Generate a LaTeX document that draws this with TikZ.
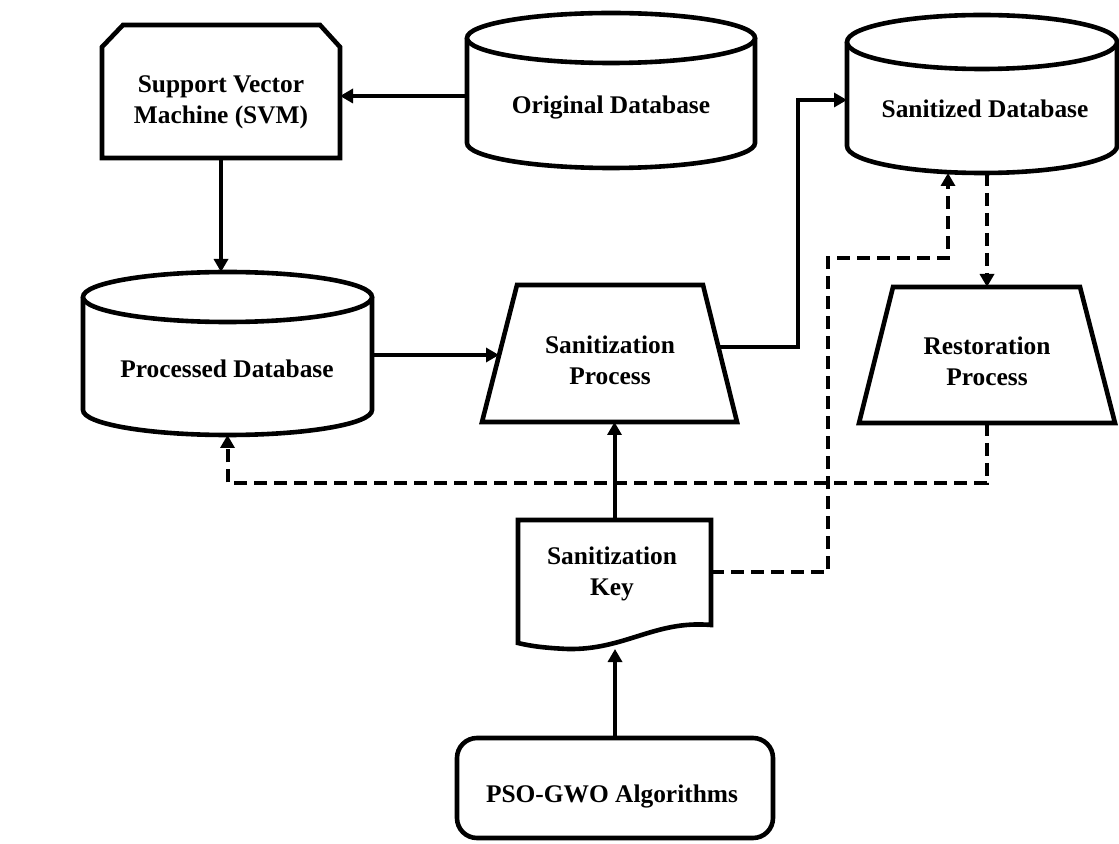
\documentclass[tikz,border=0pt]{standalone}
\usepackage{fontspec}
\setmainfont{Liberation Serif}
\usetikzlibrary{arrows.meta}
\begin{document}
\begin{tikzpicture}[x=0.5pt,y=0.5pt,
  outline/.style={line width=2.3pt, line join=miter, fill=white},
  anchorbox/.style={inner sep=0pt, outer sep=0pt},
  lbl/.style={font=\bfseries\fontsize{12.7pt}{15.5pt}\selectfont, align=center, inner sep=0pt},
  flow/.style={line width=2pt, -{Triangle[length=6.5pt,width=7pt]}},
  keyflow/.style={flow, dash pattern=on 6.5pt off 3.5pt},
]
\useasboundingbox (0,0) rectangle (1119,-844);

% Support vector machine: box with cut top corners
\node[anchorbox, minimum width=119pt, minimum height=66.5pt] (svm) at (221,-91.5) {};
\draw[outline] (102,-47) -- (123,-25) -- (320,-25) -- (340,-47) -- (340,-158) -- (102,-158) -- cycle;
\node[lbl] (svmtxt) at (221,-102) {Support Vector\\Machine (SVM)};

% Original database drum
\node[anchorbox, minimum width=144pt, minimum height=77.5pt] (orig) at (611,-90.5) {};
\draw[outline] (467,-38) -- (467,-143) arc[start angle=180,end angle=360,x radius=72pt,y radius=12.5pt] -- (755,-38);
\draw[outline] (611,-38) ellipse[x radius=72pt,y radius=12.5pt];
\node[lbl] (origtxt) at (611,-107) {Original Database};

% Sanitized database drum
\node[anchorbox, minimum width=135pt, minimum height=79pt] (sand) at (982,-94) {};
\draw[outline] (847,-42) -- (847,-146) arc[start angle=180,end angle=360,x radius=67.5pt,y radius=13.5pt] -- (1117,-42);
\draw[outline] (982,-42) ellipse[x radius=67.5pt,y radius=13.5pt];
\node[lbl] (sandtxt) at (985,-109) {Sanitized Database};

% Processed database drum
\node[anchorbox, minimum width=144.5pt, minimum height=81.5pt] (proc) at (227.5,-353.5) {};
\draw[outline] (83,-297) -- (83,-410) arc[start angle=180,end angle=360,x radius=72.25pt,y radius=12.5pt] -- (372,-297);
\draw[outline] (227.5,-297) ellipse[x radius=72.25pt,y radius=12.5pt];
\node[lbl] (proctxt) at (227,-369) {Processed Database};

% Sanitization process (trapezoid)
\node[anchorbox, minimum width=127.5pt, minimum height=68.5pt] (sanp) at (609.5,-353.5) {};
\draw[outline] (482,-422) -- (517,-285) -- (703,-285) -- (737,-422) -- cycle;
\coordinate (sanpin) at (499,-355);
\coordinate (sanpout) at (718.4,-347);
\node[lbl] (sanptxt) at (610,-360) {Sanitization\\Process};

% Restoration process (trapezoid)
\node[anchorbox, minimum width=128pt, minimum height=68pt] (rest) at (987,-355) {};
\draw[outline] (859,-423) -- (893,-287) -- (1080,-287) -- (1115,-423) -- cycle;
\node[lbl] (resttxt) at (987,-361) {Restoration\\Process};

% Sanitization key: document with wavy bottom edge
\node[anchorbox, minimum width=96.5pt, minimum height=64.5pt] (key) at (614.5,-584.5) {};
\draw[outline] (518,-520) -- (711,-520) -- (711,-625)
  .. controls (655,-620) and (625,-650) .. (568,-649)
  .. controls (545,-648) and (530,-646) .. (518,-643) -- cycle;
\node[lbl] (keytxt) at (612,-574) {Sanitization\\Key};

% Optimisation algorithms
\node[draw, line width=2.3pt, rounded corners=10pt, minimum width=158pt, minimum height=50pt,
  inner sep=0pt, outer sep=0pt] (pso) at (615,-788) {};
\node[lbl] (psotxt) at (612,-796) {PSO-GWO Algorithms};

% Data flow
\draw[flow] (orig.west |- 0,-96) -- (svm.east |- 0,-96);
\draw[flow] (svm.south) -- (svm.south |- proc.north);
\draw[flow] (proc.east |- sanpin) -- (sanpin);
\draw[flow] (sanpout) -- (sanpout -| 798,0) |- (sand.west |- 0,-100);
\draw[flow] (pso.north) -- (pso.north |- key.south);

% Key usage (dashed)
\draw[keyflow] (key.east |- 0,-572) -| (828,-258) -| (sand.south -| 948,0);
\draw[keyflow] (rest.north |- sand.south) -- (rest.north);
\draw[keyflow] (rest.south) |- (proc.south |- 0,-483) -- (proc.south);
\draw[flow] (key.north) -- (key.north |- sanp.south);
\end{tikzpicture}
\end{document}
